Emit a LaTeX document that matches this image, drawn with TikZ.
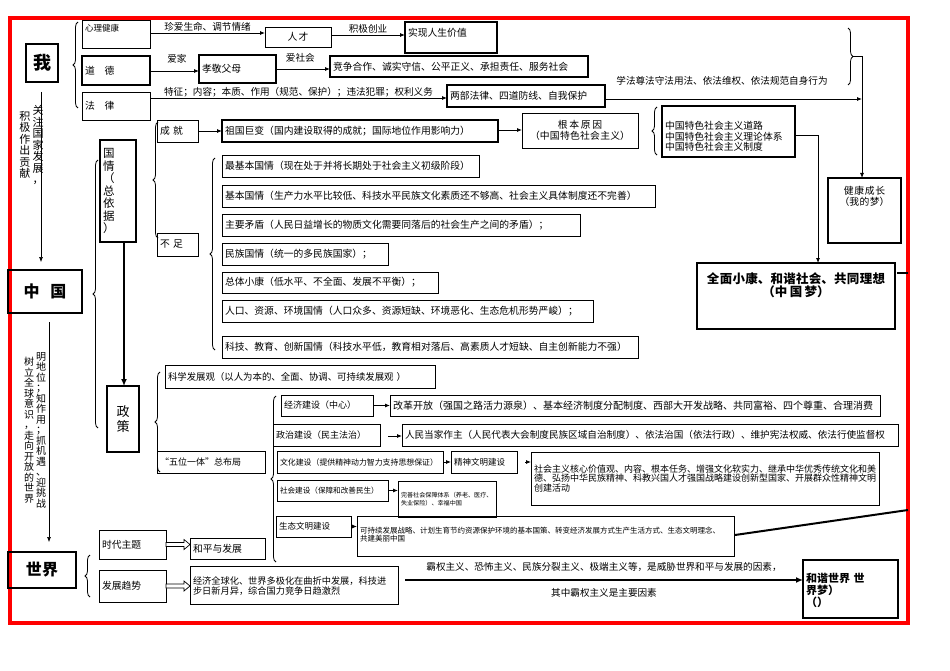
\documentclass[tikz,border=0pt]{standalone}
\usepackage{fontspec}
\setmainfont{Noto Sans CJK SC}
\XeTeXlinebreaklocale "zh"
\XeTeXlinebreakskip=0pt plus 1pt
\usetikzlibrary{arrows.meta,decorations.pathreplacing,calc}
\tikzset{
 box/.style={draw,anchor=north west,inner xsep=3pt,inner ysep=0pt,outer sep=0pt,align=left,font=\fontsize{9.8}{10.5}\selectfont},
 tk/.style={line width=2.4pt},
 tn/.style={line width=0.7pt},
 arr/.style={-{Latex[length=5pt,width=4pt]},line width=0.8pt},
 brc/.style={decorate,decoration={brace,amplitude=5pt},line width=0.8pt},
 lbl/.style={font=\fontsize{9.6}{10.5}\selectfont,inner sep=1pt},
 vt/.style={font=\fontsize{11}{11.5}\selectfont,align=center,inner sep=0pt,text width=11pt},
}
\newcommand\bx[7][]{\node[box,tn,text width={(#5-#3-6)*1pt},minimum height={(#6-#4)*1pt},#1] (#2) at (#3,#4) {#7};}
\begin{document}
\begin{tikzpicture}[x=1pt,y=-1pt]
\useasboundingbox (0,0) rectangle (950,671);
\draw[red,line width=3.5pt] (10,18) rectangle (908,623);
% 我
\bx[tk,align=center,font=\fontsize{18}{19}\bfseries\selectfont]{wo}{26}{44}{58}{82}{我}
\draw[brc] (78,108) -- (78,22);
\bx[font=\fontsize{8.5}{9}\selectfont,text depth=12pt]{xl}{82}{20}{150}{48}{心理健康}
\bx[tk]{dd}{82}{56}{150}{85}{道\quad 德}
\bx{fl}{82}{92}{150}{120}{法\quad 律}
\bx[align=center]{rc}{265}{27}{331}{47}{人才}
\bx[tk,text depth=10pt]{sx}{405}{22}{497}{53}{实现人生价值}
\draw[arr] (150,33) -- (rc.west|-150,33) node[lbl,midway,above]{珍爱生命、调节情绪};
\draw[arr] (rc.east|-0,35) -- (405,35) node[lbl,midway,above]{积极创业};
\bx[tk]{xj}{199}{55}{276}{83}{孝敬父母}
\bx[tk]{jz}{330}{56}{588}{77}{竞争合作、诚实守信、公平正义、承担责任、服务社会}
\draw[arr] (150,71) -- (199,71) node[lbl,pos=0.55,above=6pt]{爱家};
\draw[arr] (276,69) -- (330,69) node[lbl,pos=0.45,above=5pt]{爱社会};
\bx[tk]{lb}{447}{85}{605}{107}{两部法律、四道防线、自我保护}
\draw[arr] (150,98) -- (447,98) node[lbl,midway,above]{特征；内容；本质、作用（规范、保护）；违法犯罪；权利义务};
\node[lbl] at (722,81) {学法尊法守法用法、依法维权、依法规范自身行为};
\draw[brc] (848,28) -- (848,85);
\bx[tk,text depth=40pt,align=center]{jk}{828}{178}{901}{243}{健康成长\\（我的梦）}
\draw[arr] (lb.east|-0,99) -- (862,99);
\draw[tn] (853,56) -- (862,56) -- (862,99);
\draw[arr] (862,99) -- (jk.north-|862,0);
% left vertical texts
\node[vt] (t1) at (38,145) {关\\注\\国\\家\\发\\展\\，};
\node[vt] (t2) at (25,145) {积\\极\\作\\出\\贡\\献};
% 中国
\bx[tk,align=center,font=\fontsize{16}{17}\bfseries\selectfont]{zg}{8}{270}{82}{313}{中\ \ 国}
\draw[arr,line width=0.6pt] (41,92) -- (41,262);
\draw[brc] (98,428) -- (98,160);
\bx[tk,text width=30pt,font=\fontsize{11.5}{12.5}\selectfont]{gq}{100}{140}{140}{242}{国\\情\\（\\总\\依\\据\\）}
\bx[tk,align=center,text width=26pt,font=\fontsize{13}{15}\selectfont]{zc}{107}{386}{141}{452}{政\\策}
\draw[-{Latex[length=7pt,width=6pt]},line width=2pt] (124,242) -- (zc.north-|124,0);
\draw[brc] (158,238) -- (158,122);
\bx{cj}{157}{120}{198}{142}{成\ 就}
\bx{bz}{157}{233}{198}{256}{不\ 足}
\bx[tk]{zgjb}{222}{120}{498}{142}{祖国巨变（国内建设取得的成就；国际地位作用影响力）}
\draw[arr] (cj.east) -- (zgjb.west|-cj.east);
\bx[align=center]{gbyy}{522}{113}{638}{148}{根本原因\\（中国特色社会主义）}
\draw[arr] (498,130) -- (gbyy.west|-498,130);
\draw[brc] (657,155) -- (657,107);
\bx[tk,text depth=12pt]{tsl}{662}{106}{795}{157}{中国特色社会主义道路\\中国特色社会主义理论体系\\中国特色社会主义制度}
\bx[tk,align=center,text depth=36pt,font=\fontsize{12.5}{13.5}\bfseries\selectfont]{qm}{697}{263}{895}{329}{全面小康、和谐社会、共同理想\\（中国梦）}
\draw[arr] (tsl.east|-0,135) -- (818,135) -- (818,263);
\draw[line width=2pt] (897,273) -- (908,273);
\draw[line width=2pt] (735,535) -- (908,510);
% 不足 items
\draw[brc] (215,350) -- (215,158);
\bx{b1}{222}{155}{479}{177}{最基本国情（现在处于并将长期处于社会主义初级阶段）}
\bx{b2}{222}{185}{655}{207}{基本国情（生产力水平比较低、科技水平民族文化素质还不够高、社会主义具体制度还不完善）}
\bx{b3}{222}{214}{580}{236}{主要矛盾（人民日益增长的物质文化需要同落后的社会生产之间的矛盾）；}
\bx{b4}{222}{243}{388}{265}{民族国情（统一的多民族国家）；}
\bx{b5}{222}{272}{438}{293}{总体小康（低水平、不全面、发展不平衡）；}
\bx{b6}{222}{300}{593}{322}{人口、资源、环境国情（人口众多、资源短缺、环境恶化、生态危机形势严峻）；}
\bx{b7}{222}{336}{638}{358}{科技、教育、创新国情（科技水平低，教育相对落后、高素质人才短缺、自主创新能力不强）}
% 政策
\draw[brc] (160,472) -- (160,372);
\bx[font=\fontsize{9.4}{10}\selectfont]{kx}{165}{365}{435}{388}{科学发展观（以人为本的、全面、协调、可持续发展观 ）}
\bx[font=\fontsize{9}{10}\selectfont]{wwyt}{157}{451}{265}{473}{“五位一体”总布局}
\draw[brc] (276,562) -- (276,396);
\bx[font=\fontsize{9}{10}\selectfont]{e1}{281}{395}{373}{416}{经济建设（中心）}
\bx[font=\fontsize{10}{10.5}\selectfont]{e2}{390}{395}{880}{416}{改革开放（强国之路活力源泉）、基本经济制度分配制度、西部大开发战略、共同富裕、四个尊重、合理消费}
\draw[arr] (e1.east) -- (e2.west|-e1.east);
\bx[font=\fontsize{9}{10}\selectfont]{p1}{273}{424}{380}{446}{政治建设（民主法治）}
\bx[font=\fontsize{9.6}{10}\selectfont]{p2}{402}{424}{898}{446}{人民当家作主（人民代表大会制度民族区域自治制度）、依法治国（依法行政）、维护宪法权威、依法行使监督权}
\draw[arr] (388,436) -- (p2.west|-388,436);
\bx[font=\fontsize{7.9}{9}\selectfont]{c1}{277}{451}{443}{473}{文化建设（提供精神动力智力支持思想保证）}
\bx[font=\fontsize{8.5}{9}\selectfont]{c2}{451}{451}{517}{473}{精神文明建设}
\bx[font=\fontsize{9}{9.6}\selectfont,text depth=20pt]{c3}{531}{452}{879}{505}{社会主义核心价值观、内容、根本任务、增强文化软实力、继承中华优秀传统文化和美德、弘扬中华民族精神、科教兴国人才强国战略建设创新型国家、开展群众性精神文明创建活动}
\draw[arr] (c1.east) -- (c2.west|-c1.east);
\draw[arr] (525,462) -- (c3.west|-525,462);
\bx[font=\fontsize{7.6}{9}\selectfont]{s1}{277}{480}{388}{501}{社会建设（保障和改善民生）}
\bx[font=\fontsize{6.1}{8}\selectfont,text depth=8pt]{s2}{398}{481}{496}{517}{完善社会保障体系（养老、医疗、\\失业保险）、幸福中国}
\draw[arr] (s1.east) -- (s2.west|-s1.east);
\bx[font=\fontsize{8.5}{9}\selectfont]{g1}{276}{516}{351}{537}{生态文明建设}
\bx[font=\fontsize{7.5}{8.5}\selectfont,text depth=12pt]{g2}{357}{516}{734}{556}{可持续发展战略、计划生育节约资源保护环境的基本国策、转变经济发展方式生产生活方式、生态文明理念、\\共建美丽中国}
\draw[arr] (g1.east) -- (g2.west|-g1.east);
% 世界
\node[vt,font=\fontsize{10}{10.5}\selectfont,text width=10pt] (t3) at (41,430) {明\\地\\位\\；\\知\\作\\用\\；\\抓\\机\\遇\\、\\迎\\挑\\战};
\node[vt,font=\fontsize{10}{10.5}\selectfont,text width=10pt] (t4) at (29,430) {树\\立\\全\\球\\意\\识\\，\\走\\向\\开\\放\\的\\世\\界};
\draw[arr,line width=0.6pt] (49,322) -- (49,542);
\bx[tk,align=center,font=\fontsize{16}{17}\bfseries\selectfont]{sj}{8}{552}{76}{588}{世界}
\draw[brc] (90,597) -- (90,555);
\bx{sd}{99}{530}{166}{559}{时代主题}
\bx{fz}{99}{570}{166}{602}{发展趋势}
\bx{hp}{190}{538}{265}{559}{和平与发展}
\bx[font=\fontsize{9.2}{10}\selectfont,text depth=8pt]{jj}{190}{566}{398}{604}{经济全球化、世界多极化在曲折中发展，科技进\\步日新月异，综合国力竞争日趋激烈}
\foreach \a/\b in {sd/hp,fz/jj}{
 \path (\a.east) coordinate (p0) (p0-|\b.west) coordinate (p1);
 \draw[tn,fill=white] ($(p0)+(0,-2)$) -- ($(p1)+(-6,-2)$) -- ($(p1)+(-6,-5)$) -- (p1) -- ($(p1)+(-6,5)$) -- ($(p1)+(-6,2)$) -- ($(p0)+(0,2)$) -- cycle;
}
\bx[tk,text depth=22pt,font=\fontsize{11}{12}\bfseries\selectfont]{hx}{803}{560}{898}{618}{和谐世界\ 世\\界梦）\\（）}
\draw[-{Latex[length=7pt,width=6pt]},line width=2pt] (jj.east|-0,580) ++(7,0) -- (hx.west|-0,580) node[lbl,midway,above=6pt]{霸权主义、恐怖主义、民族分裂主义、极端主义等，是威胁世界和平与发展的因素，} node[lbl,midway,below=6pt]{其中霸权主义是主要因素};
\end{tikzpicture}
\end{document}
